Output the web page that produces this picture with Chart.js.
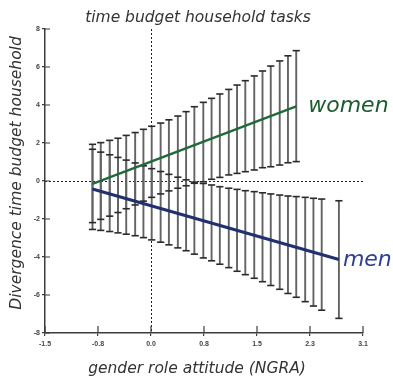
<!DOCTYPE html>
<html>
<head>
<meta charset="utf-8">
<script src="https://cdn.jsdelivr.net/npm/chart.js@4/dist/chart.umd.min.js"></script>
<style>
  html, body { margin: 0; padding: 0; background: #fff; }
  #wrap { width: 393px; height: 379px; }
</style>
</head>
<body>
<div id="wrap"><canvas id="c" width="393" height="379"></canvas></div>
<script>
// Gender role attitude (NGRA) positions at which the predicted values are shown
const womenX = [-0.85, -0.73, -0.60, -0.48, -0.36, -0.23, -0.11, 0.01, 0.14, 0.26, 0.39, 0.51, 0.63,
                0.76, 0.88, 1.00, 1.13, 1.25, 1.37, 1.50, 1.62, 1.74, 1.87, 1.99, 2.11];
const womenHigh = [1.93, 2.02, 2.14, 2.25, 2.40, 2.55, 2.72, 2.88, 3.05, 3.22, 3.42, 3.65, 3.91,
                   4.14, 4.35, 4.58, 4.82, 5.05, 5.28, 5.53, 5.79, 6.05, 6.32, 6.59, 6.86];
const womenLow = [-2.19, -2.02, -1.85, -1.66, -1.46, -1.26, -1.06, -0.86, -0.68, -0.52, -0.38, -0.25, -0.12,
                  -0.04, 0.09, 0.19, 0.32, 0.40, 0.49, 0.58, 0.70, 0.75, 0.84, 0.96, 1.02];

const menX = [-0.85, -0.73, -0.60, -0.48, -0.36, -0.23, -0.11, 0.01, 0.14, 0.26, 0.39, 0.51, 0.63,
              0.76, 0.88, 1.00, 1.13, 1.25, 1.37, 1.50, 1.62, 1.74, 1.87, 1.99, 2.11, 2.24, 2.36, 2.48, 2.73];
const menHigh = [1.67, 1.52, 1.38, 1.24, 1.10, 0.95, 0.80, 0.65, 0.50, 0.35, 0.20, 0.06, -0.06,
                 -0.13, -0.21, -0.30, -0.38, -0.44, -0.51, -0.56, -0.62, -0.68, -0.74, -0.79, -0.82, -0.86, -0.91, -0.95, -1.04];
const menLow = [-2.55, -2.60, -2.66, -2.73, -2.80, -2.88, -2.98, -3.10, -3.22, -3.36, -3.52, -3.67, -3.85,
                -4.05, -4.20, -4.38, -4.56, -4.75, -4.93, -5.12, -5.30, -5.50, -5.70, -5.92, -6.12, -6.35, -6.58, -6.80, -7.23];

// Fitted regression lines (start and end points)
const womenFitX = [-0.85, 2.11];
const womenFitY = [-0.15, 3.93];
const menFitX = [-0.85, 2.73];
const menFitY = [-0.42, -4.13];

// Axis ticks
const xTickValues = [-1.54, -0.77, 0, 0.77, 1.54, 2.31, 3.08];
const xTickLabels = ['-1.5', '-0.8', '0.0', '0.8', '1.5', '2.3', '3.1'];
const yTickLabels = ['-8', '-6', '-4', '-2', '0', '2', '4', '6', '8'];

const titleText = 'time budget household tasks';
const xTitle = 'gender role attitude (NGRA)';
const yTitle = 'Divergence time budget household';
const womenLabel = 'women';
const menLabel = 'men';

const GREEN = '#1f6a3a';
const NAVY = '#23306f';
const BAR = '#636363';
const AXIS = '#3c3c3c';
const TEXT = '#333333';
const TITLE_FONT = 'italic 15.5px "DejaVu Sans"';

// vertical whisker segments, separated by gaps
function whiskers(xs, lo, hi) {
  const pts = [];
  xs.forEach((x, i) => {
    pts.push({ x: x, y: lo[i] }, { x: x, y: hi[i] }, { x: x, y: null });
  });
  return pts;
}
function caps(xs, lo, hi) {
  const pts = [];
  xs.forEach((x, i) => { pts.push({ x: x, y: lo[i] }, { x: x, y: hi[i] }); });
  return pts;
}
function fit(xs, ys) { return xs.map((x, i) => ({ x: x, y: ys[i] })); }

const decorations = {
  id: 'decorations',
  beforeDatasetsDraw(chart) {
    const { ctx, chartArea: a, scales: { x, y } } = chart;
    ctx.save();
    // dotted reference lines at zero
    ctx.strokeStyle = '#222';
    ctx.lineWidth = 1;
    ctx.setLineDash([2, 2]);
    const x0 = Math.round(x.getPixelForValue(0)) + 0.5;
    const y0 = Math.round(y.getPixelForValue(0)) + 0.5;
    ctx.beginPath();
    ctx.moveTo(x0, a.top); ctx.lineTo(x0, a.bottom);
    ctx.moveTo(a.left, y0); ctx.lineTo(a.right, y0);
    ctx.stroke();
    ctx.setLineDash([]);
    // inner part of the tick marks
    ctx.strokeStyle = AXIS;
    ctx.lineWidth = 1.2;
    ctx.beginPath();
    y.ticks.forEach(t => {
      const py = y.getPixelForValue(t.value);
      ctx.moveTo(a.left, py); ctx.lineTo(a.left + 5, py);
    });
    x.ticks.forEach(t => {
      const px = x.getPixelForValue(t.value);
      ctx.moveTo(px, a.bottom); ctx.lineTo(px, a.bottom - 7);
    });
    ctx.stroke();
    ctx.restore();
  },
  afterDatasetsDraw(chart) {
    const { ctx, scales: { x, y } } = chart;
    ctx.save();
    ctx.textBaseline = 'alphabetic';
    ctx.textAlign = 'left';
    ctx.font = 'italic 22px "DejaVu Sans"';
    ctx.fillStyle = '#1b5c2d';
    ctx.fillText(womenLabel,
      x.getPixelForValue(womenFitX[1]) + 12,
      y.getPixelForValue(womenFitY[1]) + 6);
    ctx.fillStyle = '#2f3f92';
    ctx.fillText(menLabel,
      x.getPixelForValue(menFitX[1]) + 4,
      y.getPixelForValue(menFitY[1]) + 6.5);

    // chart title and axis titles
    ctx.fillStyle = TEXT;
    ctx.font = TITLE_FONT;
    ctx.textAlign = 'center';
    ctx.textBaseline = 'middle';
    ctx.fillText(titleText, 198, 18);
    ctx.fillText(xTitle, 197, 369);
    ctx.translate(17, 173);
    ctx.rotate(-Math.PI / 2);
    ctx.fillText(yTitle, 0, 0);
    ctx.restore();
  }
};

new Chart(document.getElementById('c'), {
  type: 'scatter',
  data: {
    datasets: [
      { type: 'line', data: whiskers(womenX, womenLow, womenHigh), borderColor: BAR, borderWidth: 1.9,
        pointRadius: 0, spanGaps: false, order: 4 },
      { type: 'line', data: whiskers(menX, menLow, menHigh), borderColor: BAR, borderWidth: 1.9,
        pointRadius: 0, spanGaps: false, order: 4 },
      { type: 'scatter', data: caps(womenX, womenLow, womenHigh), pointStyle: 'line', pointRadius: 3.6,
        pointBorderWidth: 1.6, pointBorderColor: '#2a2a2a', showLine: false, order: 3 },
      { type: 'scatter', data: caps(menX, menLow, menHigh), pointStyle: 'line', pointRadius: 3.6,
        pointBorderWidth: 1.6, pointBorderColor: '#2a2a2a', showLine: false, order: 3 },
      { type: 'line', data: fit(womenFitX, womenFitY), borderColor: GREEN, borderWidth: 2.4,
        pointRadius: 0, order: 1 },
      { type: 'line', data: fit(menFitX, menFitY), borderColor: NAVY, borderWidth: 3,
        pointRadius: 0, order: 1 }
    ]
  },
  options: {
    responsive: false,
    animation: false,
    devicePixelRatio: 1,
    layout: { padding: { left: 0, right: 30, top: 29, bottom: 0 } },
    plugins: {
      legend: { display: false },
      tooltip: { enabled: false },
      title: { display: false }
    },
    scales: {
      x: {
        type: 'linear',
        min: xTickValues[0],
        max: xTickValues[xTickValues.length - 1],
        offset: false,
        afterBuildTicks: s => { s.ticks = xTickValues.map(v => ({ value: v })); },
        afterFit: s => { s.height = 46; },
        ticks: {
          autoSkip: false, maxRotation: 0, padding: 4, color: '#444',
          font: { family: '"Liberation Sans Narrow", "Liberation Sans"', size: 7, weight: 'bold' },
          callback: (v, i) => xTickLabels[i]
        },
        grid: { drawOnChartArea: false, drawTicks: true, tickLength: 3, color: AXIS, lineWidth: 1.2 },
        border: { color: AXIS, width: 1.5 }
      },
      y: {
        type: 'linear',
        min: -8,
        max: 8,
        afterFit: s => { s.width = 45; },
        ticks: {
          stepSize: 2, padding: 2, color: '#444',
          font: { family: '"Liberation Sans Narrow", "Liberation Sans"', size: 7, weight: 'bold' },
          callback: (v) => yTickLabels[(v + 8) / 2]
        },
        grid: { drawOnChartArea: false, drawTicks: true, tickLength: 3, color: AXIS, lineWidth: 1.2 },
        border: { color: AXIS, width: 1.5 }
      }
    }
  },
  plugins: [decorations]
});
</script>
</body>
</html>
